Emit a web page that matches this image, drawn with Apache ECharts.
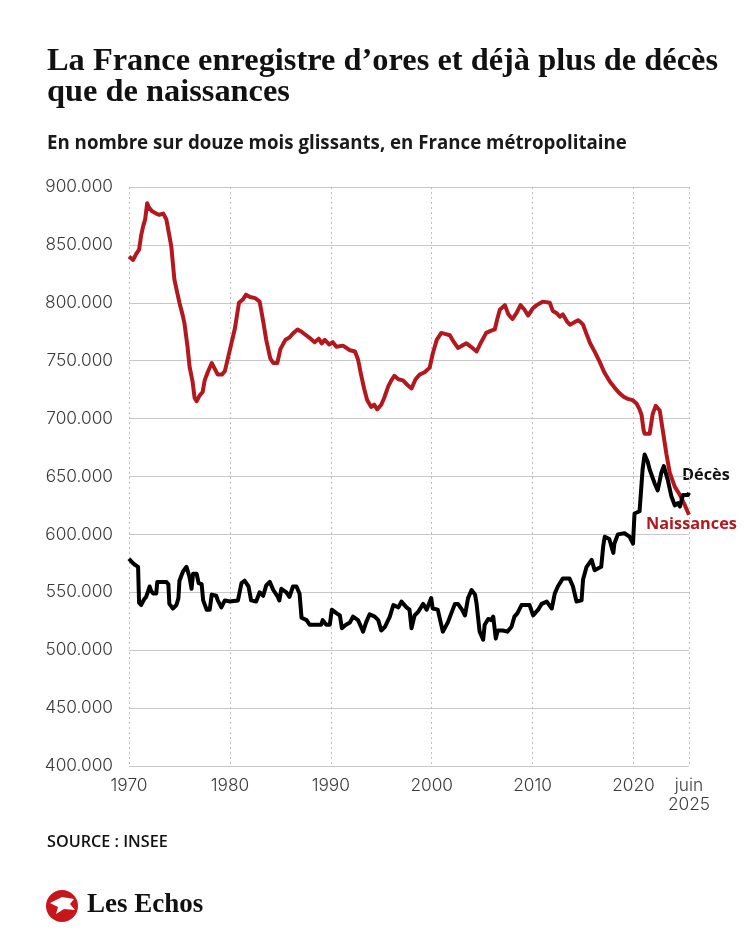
<!DOCTYPE html>
<html>
<head>
<meta charset="utf-8">
<script src="https://cdn.jsdelivr.net/npm/echarts@6/dist/echarts.min.js"></script>
<style>
html,body{margin:0;padding:0;background:#fff;}
#c{width:750px;height:938px;}
</style>
</head>
<body>
<div id="c"></div>
<script>
// Naissances (births), 12-month rolling, thousands
var naissYears = [1970.0,1970.4,1970.7,1971.0,1971.2,1971.4,1971.6,1971.8,1972.0,1972.3,1972.7,1973.0,1973.4,1973.7,1974.0,1974.2,1974.5,1974.8,1975.0,1975.3,1975.5,1975.8,1976.0,1976.3,1976.5,1976.7,1977.0,1977.3,1977.5,1977.8,1978.2,1978.5,1978.8,1979.2,1979.5,1979.8,1980.15,1980.5,1980.9,1981.3,1981.6,1982.0,1982.5,1982.95,1983.3,1983.6,1984.0,1984.3,1984.7,1985.0,1985.5,1985.9,1986.3,1986.7,1987.1,1987.55,1988.0,1988.4,1988.8,1989.1,1989.4,1989.85,1990.2,1990.55,1991.2,1991.9,1992.4,1992.7,1993.0,1993.3,1993.6,1994.0,1994.3,1994.6,1995.0,1995.3,1995.7,1996.0,1996.3,1996.7,1997.15,1997.6,1998.0,1998.4,1998.8,1999.3,1999.8,2000.1,2000.5,2000.95,2001.4,2001.8,2002.2,2002.6,2003.0,2003.45,2003.9,2004.45,2004.9,2005.4,2005.9,2006.25,2006.5,2006.75,2007.25,2007.6,2008.0,2008.4,2008.8,2009.2,2009.55,2010.0,2010.4,2011.0,2011.7,2012.0,2012.4,2012.7,2013.0,2013.4,2013.7,2014.1,2014.5,2014.8,2015.0,2015.3,2015.7,2016.2,2016.65,2017.1,2017.65,2018.1,2018.6,2019.0,2019.45,2019.9,2020.3,2020.6,2020.8,2021.0,2021.1,2021.6,2021.9,2022.2,2022.6,2022.9,2023.25,2023.6,2024.1,2024.6,2025.1,2025.5];
var naissValues = [840,837,842,846,858,866,872,886,882,879,877,876,877,872,858,848,820,808,800,790,782,762,745,732,718,715,720,723,733,740,748,743,738,738,741,752,765,778,800,803,807,805,804,801,784,768,752,748,748,760,768,770,774,777,775,772,769,766,769,765,768,764,766,762,763,759,758,751,738,726,716,710,712,708,712,718,728,733,737,734,733,729,726,734,738,740,744,756,768,774,773,772,766,761,763,765,762,758,766,774,776,777,786,794,798,790,786,791,798,794,789,795,798,801,800,793,791,788,790,784,781,783,785,783,781,774,765,757,749,740,732,727,722,719,717,716,713,708,703,690,687,687,704,711,707,690,670,653,641,634,625,617];

// Décès (deaths), 12-month rolling, thousands
var decesYears = [1970.0,1970.3,1970.55,1970.9,1971.0,1971.2,1971.5,1971.7,1972.05,1972.2,1972.4,1972.7,1972.8,1973.7,1973.9,1974.0,1974.35,1974.7,1974.9,1975.0,1975.35,1975.7,1976.0,1976.2,1976.35,1976.7,1976.9,1977.2,1977.35,1977.7,1978.0,1978.2,1978.65,1978.8,1979.15,1979.5,1980.0,1980.8,1981.15,1981.45,1981.85,1982.1,1982.6,1982.95,1983.3,1983.6,1983.95,1984.3,1984.75,1984.9,1985.1,1985.6,1985.9,1986.25,1986.6,1986.9,1987.1,1987.6,1987.9,1989.05,1989.2,1989.55,1989.9,1990.1,1990.55,1990.9,1991.1,1991.5,1991.9,1992.2,1992.7,1993.0,1993.2,1993.5,1993.85,1994.35,1994.7,1995.0,1995.35,1995.85,1996.2,1996.7,1997.0,1997.15,1997.5,1997.8,1998.0,1998.3,1998.65,1999.15,1999.5,1999.95,2000.1,2000.6,2001.1,2001.6,2001.95,2002.3,2002.6,2003.0,2003.3,2003.6,2003.95,2004.3,2004.45,2004.75,2005.1,2005.25,2005.6,2005.9,2006.1,2006.35,2006.55,2007.05,2007.5,2007.9,2008.2,2008.5,2008.9,2009.7,2010.05,2010.55,2010.9,2011.4,2011.9,2012.2,2012.5,2013.0,2013.65,2014.0,2014.35,2014.85,2015.0,2015.35,2015.85,2016.15,2016.8,2017.0,2017.15,2017.6,2018.0,2018.1,2018.45,2019.1,2019.6,2019.95,2020.1,2020.6,2020.9,2021.1,2021.4,2021.6,2021.7,2022.1,2022.4,2022.75,2023.0,2023.4,2023.75,2024.1,2024.4,2024.6,2024.9,2025.4,2025.5];
var decesValues = [579,576,574,572,541,539,544,546,555,551,549,549,559,559,557,540,536,539,545,560,568,572,563,553,566,566,558,557,543,535,535,548,547,543,537,543,542,543,558,560,555,543,542,550,547,556,559,552,546,543,553,550,546,555,555,549,528,526,522,522,526,522,522,535,532,530,519,522,524,529,526,520,516,524,531,529,526,517,520,529,539,537,542,543,537,535,519,530,533,540,535,545,536,535,516,524,532,540,540,535,530,545,552,548,540,516,509,522,527,526,529,510,517,517,516,520,529,532,539,539,530,535,540,542,536,549,555,562,562,555,542,543,561,572,578,569,572,590,598,596,584,592,600,601,598,592,618,620,656,669,663,656,657,644,638,653,659,647,633,625,627,624,634,634,636];

var yTicks = {min: 400000, max: 900000, step: 50000};
var xTicks = {min: 1970, max: 2025.5, step: 10};
var lastLabel = 'juin\n2025';

var titleLine1 = 'La France enregistre d’ores et déjà plus de décès';
var titleText = titleLine1 + '\nque de naissances';
var subtitleText = 'En nombre sur douze mois glissants, en France métropolitaine';
var sourceText = 'SOURCE : INSEE';

function pairs(xs, vs) {
  var out = [];
  for (var i = 0; i < xs.length; i++) out.push([xs[i], vs[i] * 1000]);
  return out;
}

// font-size fitting helper (layout only)
var ctx = document.createElement('canvas').getContext('2d');
function fit(text, weight, family, target) {
  ctx.font = weight + ' 100px ' + family;
  var w = ctx.measureText(text).width;
  return Math.round(100 * target / w * 10) / 10;
}
var fsTitle = fit(titleLine1, 'bold', '"Liberation Serif"', 671);
var fsSub = fit(subtitleText, 'bold', '"Open Sans"', 579);
var fsLbl = fit('Naissances', 'bold', '"Open Sans"', 91);
var fsSrc = fit(sourceText, '600', '"Open Sans"', 121);
var fsAxis = fit('900.000', '300', 'Inter', 68);
if (fsAxis > 19) fsAxis = 19;

var RED = '#b3181e';
var chart = echarts.init(document.getElementById('c'), null, {renderer: 'canvas'});
chart.setOption({
  backgroundColor: '#fff',
  animation: false,
  grid: {left: 129, right: 61, top: 187, bottom: 172, containLabel: false},
  xAxis: {
    type: 'value', min: xTicks.min, max: xTicks.max, interval: xTicks.step,
    axisLine: {show: false}, axisTick: {show: false},
    splitLine: {show: true, lineStyle: {color: '#bdbdbd', type: [2, 3], width: 1}},
    axisLabel: {
      margin: 10, color: '#3a3a3a', fontFamily: 'Inter', fontSize: fsAxis, fontWeight: 300,
      lineHeight: 19, showMaxLabel: true, showMinLabel: true,
      formatter: function (v) { return v > 2025 ? lastLabel : String(v); }
    }
  },
  yAxis: {
    type: 'value', min: yTicks.min, max: yTicks.max, interval: yTicks.step,
    axisLine: {show: false}, axisTick: {show: false},
    splitLine: {show: true, lineStyle: {color: '#c9c9c9', width: 1}},
    axisLabel: {
      margin: 16, color: '#3a3a3a', fontFamily: 'Inter', fontSize: fsAxis, fontWeight: 300,
      formatter: function (v) { return (v / 1000) + '.000'; }
    }
  },
  series: [
    {type: 'line', name: 'Naissances', data: pairs(naissYears, naissValues), showSymbol: false,
     lineStyle: {color: RED, width: 4, join: 'round'}, z: 3},
    {type: 'line', name: 'Décès', data: pairs(decesYears, decesValues), showSymbol: false,
     lineStyle: {color: '#000', width: 4, join: 'round'}, z: 4}
  ],
  graphic: [
    {type: 'text', left: 47, top: 46, style: {text: titleText,
      font: 'bold ' + fsTitle + 'px "Liberation Serif"', fill: '#111', lineHeight: 31}},
    {type: 'text', left: 47, top: 134, style: {text: subtitleText,
      font: 'bold ' + fsSub + 'px "Open Sans"', fill: '#1a1a1a'}},
    {type: 'text', left: 682, top: 467, style: {text: 'Décès', font: 'bold ' + fsLbl + 'px "Open Sans"', fill: '#111'}},
    {type: 'text', left: 646, top: 516, style: {text: 'Naissances', font: 'bold ' + fsLbl + 'px "Open Sans"', fill: RED}},
    {type: 'text', left: 47, top: 834, style: {text: sourceText, font: '600 ' + fsSrc + 'px "Open Sans"', fill: '#111'}},
    {type: 'circle', shape: {cx: 62, cy: 906, r: 16}, style: {fill: '#c8161d'}},
    {type: 'polygon', shape: {points: [[50,903],[62,897],[74,899],[70,904],[75,910],[64,909],[56,914],[58,907]]}, style: {fill: '#fff'}},
    {type: 'text', left: 87, top: 892, style: {text: 'Les Echos', font: 'bold 27px "Liberation Serif"', fill: '#111'}}
  ]
});
</script>
</body>
</html>
